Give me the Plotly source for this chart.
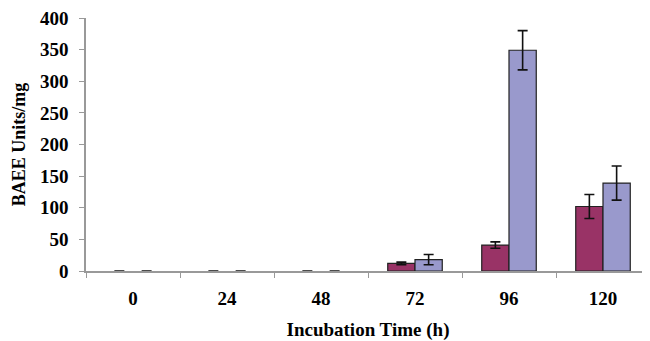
import plotly.graph_objects as go

categories = ["0", "24", "48", "72", "96", "120"]
series_a = [0, 0, 0, 12, 41, 102]
series_a_err = [0, 0, 0, 2, 5, 19]
series_b = [0, 0, 0, 18, 349, 139]
series_b_err = [0, 0, 0, 8, 31, 27]
y_ticks = [0, 50, 100, 150, 200, 250, 300, 350, 400]

font_family = "Liberation Serif, Times New Roman, serif"


def outline_widths(values):
    return [0 if v == 0 else 1.2 for v in values]


fig = go.Figure()
fig.add_trace(go.Bar(
    x=categories, y=series_a, name="A",
    marker=dict(color="#993366", line=dict(color="#222222", width=outline_widths(series_a))),
    error_y=dict(type="data", array=series_a_err, color="#111111", thickness=1.6, width=5),
))
fig.add_trace(go.Bar(
    x=categories, y=series_b, name="B",
    marker=dict(color="#9999CC", line=dict(color="#222222", width=outline_widths(series_b))),
    error_y=dict(type="data", array=series_b_err, color="#111111", thickness=1.6, width=5),
))

# page body has an 8px default margin, so the figure is sized to fill the rest
fig.update_layout(
    width=642, height=333,
    margin=dict(l=78, r=0, t=10, b=70, autoexpand=False),
    barmode="group", bargap=0.42, bargroupgap=0,
    plot_bgcolor="white", paper_bgcolor="white",
    showlegend=False,
    font=dict(family=font_family, size=19, color="black"),
)
fig.update_xaxes(
    type="category", range=[-0.5, 5.5], automargin=False,
    tickvals=categories, ticktext=["<b>%s</b>" % c for c in categories],
    showline=True, linecolor="#999999", linewidth=1.5,
    ticks="outside", tickson="boundaries", ticklen=5, tickcolor="#999999",
    ticklabelstandoff=9,
    tickfont=dict(family=font_family, size=19, color="black"),
    title=dict(text="<b>Incubation Time (h)</b>", font=dict(family=font_family, size=19), standoff=20),
    showgrid=False,
)
fig.update_yaxes(
    range=[0, 400], automargin=False,
    tickvals=y_ticks, ticktext=["<b>%d</b>" % v for v in y_ticks],
    showline=True, linecolor="#999999", linewidth=1.5,
    ticks="outside", ticklen=5, tickcolor="#999999",
    ticklabelstandoff=7, ticklabeloverflow="allow",
    tickfont=dict(family=font_family, size=19, color="black"),
    title=dict(text="<b>BAEE Units/mg</b>", font=dict(family=font_family, size=18), standoff=10),
    showgrid=False, zeroline=False,
)

fig.write_html("out.html")
